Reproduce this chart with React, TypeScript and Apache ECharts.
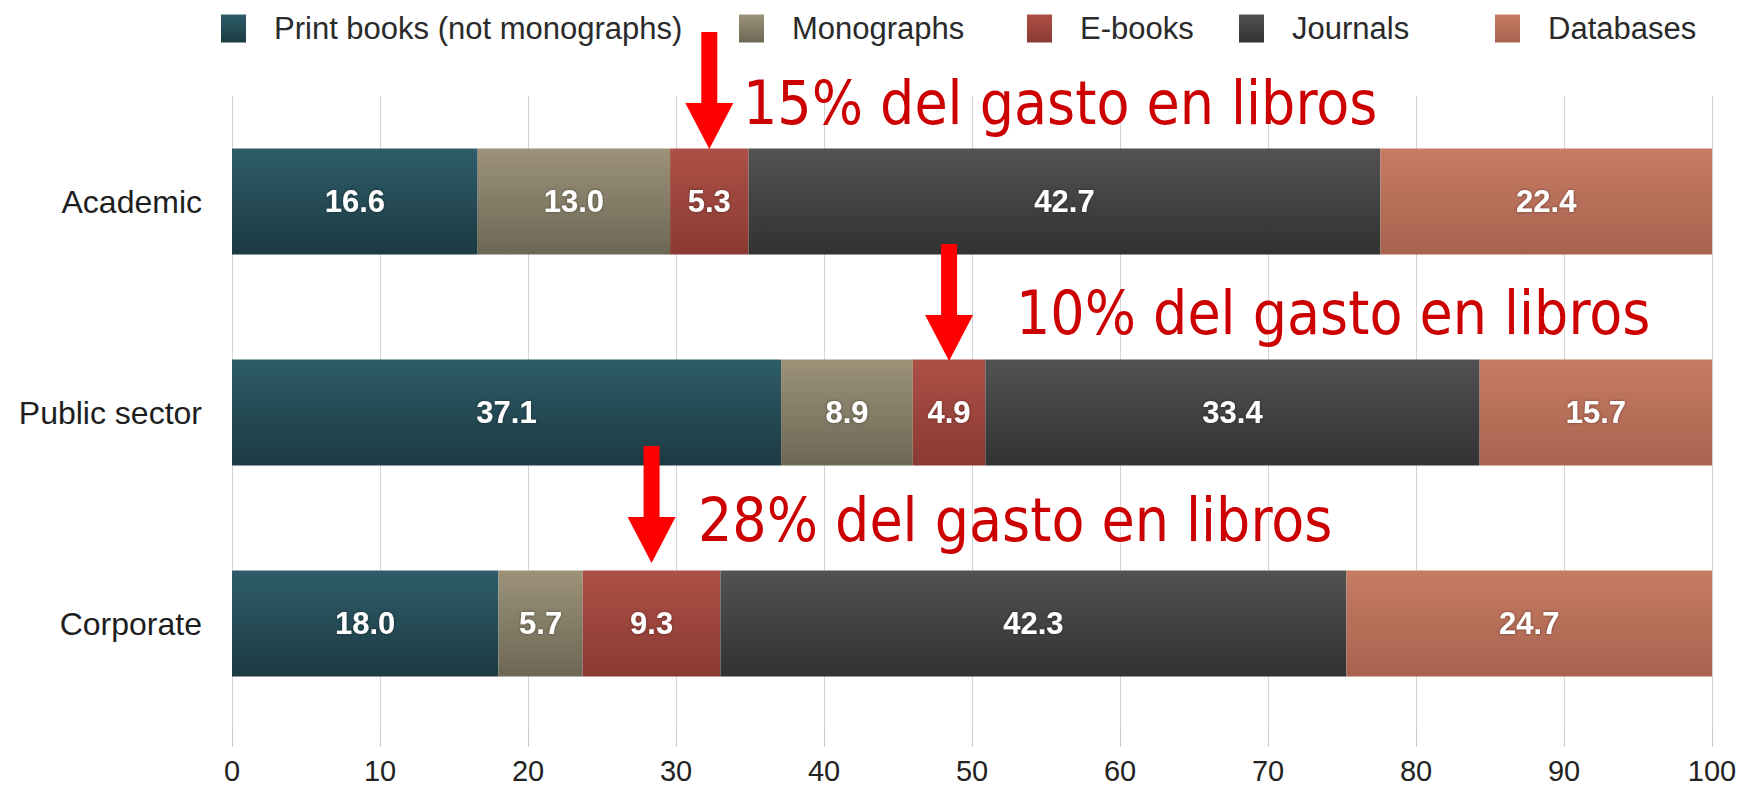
import React, { useEffect, useRef } from "react";
import * as echarts from "echarts";

const categories = ["Academic", "Public sector", "Corporate"];
const seriesNames = ["Print books (not monographs)", "Monographs", "E-books", "Journals", "Databases"];
const printBooks = [16.6, 37.1, 18.0];
const monographs = [13.0, 8.9, 5.7];
const eBooks = [5.3, 4.9, 9.3];
const journals = [42.7, 33.4, 42.3];
const databases = [22.4, 15.7, 24.7];
const xTicks = { min: 0, max: 100, interval: 10 };
const annotationTexts = ["15% del gasto en libros", "10% del gasto en libros", "28% del gasto en libros"];

const seriesValues = [printBooks, monographs, eBooks, journals, databases];
const gradients: [string, string][] = [
  ["#2e5c69", "#1c3a42"],
  ["#9c9278", "#6c6755"],
  ["#ad5046", "#8a3a33"],
  ["#525252", "#323232"],
  ["#c77b63", "#a7634f"],
];
const legendLefts = [221, 739, 1027, 1239, 1495];
const textPos = [
  [743, 103],
  [1016, 313],
  [698, 520],
];
const arrowTips = [149, 361, 563];

export default function App() {
  const ref = useRef<HTMLDivElement>(null);
  useEffect(() => {
    if (!ref.current) return;
    const chart = echarts.init(ref.current, null, { renderer: "svg" });
    const font = "'Liberation Sans', Arial, Helvetica, sans-serif";
    const grad = (c: [string, string]) =>
      new echarts.graphic.LinearGradient(0, 0, 0, 1, [
        { offset: 0, color: c[0] },
        { offset: 1, color: c[1] },
      ]);
    const option: any = {
      animation: false,
      backgroundColor: "#ffffff",
      legend: seriesNames.map((n, i) => ({
        data: [{ name: n, icon: "rect" }],
        left: legendLefts[i],
        top: 13,
        itemWidth: 25,
        itemHeight: 28,
        padding: 0,
        textStyle: { fontFamily: font, fontSize: 31, color: "#2a2a2a", padding: [0, 0, 0, 23] },
        selectedMode: false,
      })),
      grid: { left: 232, right: 44, top: 96, bottom: 56 },
      xAxis: {
        type: "value",
        min: xTicks.min,
        max: xTicks.max,
        interval: xTicks.interval,
        axisLine: { show: false },
        axisTick: { show: true, length: 18, lineStyle: { color: "#c9c9c9" } },
        splitLine: { show: true, lineStyle: { color: "#d4d4d4", width: 1 } },
        axisLabel: { fontFamily: font, fontSize: 29, color: "#222", margin: 27 },
      },
      yAxis: {
        type: "category",
        inverse: true,
        data: categories,
        axisLine: { show: false },
        axisTick: { show: false },
        axisLabel: { fontFamily: font, fontSize: 32, color: "#1e1e1e", margin: 30 },
      },
      series: seriesNames.map((n, i) => ({
        name: n,
        type: "bar",
        stack: "total",
        barWidth: 106,
        data: seriesValues[i],
        itemStyle: { color: grad(gradients[i]) },
        label: {
          show: true,
          position: "inside",
          color: "#ffffff",
          fontFamily: font,
          fontWeight: "bold",
          fontSize: 31,
          textShadowColor: "rgba(0,0,0,0.45)",
          textShadowBlur: 3,
          formatter: (p: any) => Number(p.value).toFixed(1),
        },
      })),
    };
    chart.setOption(option);

    const graphics: any[] = [];
    categories.forEach((_, ci) => {
      const mid = printBooks[ci] + monographs[ci] + eBooks[ci] / 2;
      const pt = chart.convertToPixel({ gridIndex: 0 }, [mid, ci]) as number[];
      const cx = pt[0];
      const tip = arrowTips[ci];
      const headH = 46;
      const total = 117;
      graphics.push({
        type: "rect",
        shape: { x: cx - 8, y: tip - total, width: 16, height: total - headH + 1 },
        style: { fill: "#ff0000" },
        z: 100,
      });
      graphics.push({
        type: "polygon",
        shape: { points: [[cx - 24, tip - headH], [cx + 24, tip - headH], [cx, tip]] },
        style: { fill: "#ff0000" },
        z: 100,
      });
      graphics.push({
        type: "text",
        x: textPos[ci][0],
        y: textPos[ci][1],
        z: 100,
        style: {
          text: annotationTexts[ci],
          fill: "#cc0000",
          fontSize: 60,
          fontFamily: "'DejaVu Sans Condensed', 'DejaVu Sans', sans-serif",
          align: "left",
          verticalAlign: "middle",
        },
      });
    });
    chart.setOption({ graphic: graphics });
    return () => chart.dispose();
  }, []);
  return (
    <div
      ref={ref}
      style={{ position: "absolute", left: 0, top: 0, width: 1756, height: 785 }}
    />
  );
}
